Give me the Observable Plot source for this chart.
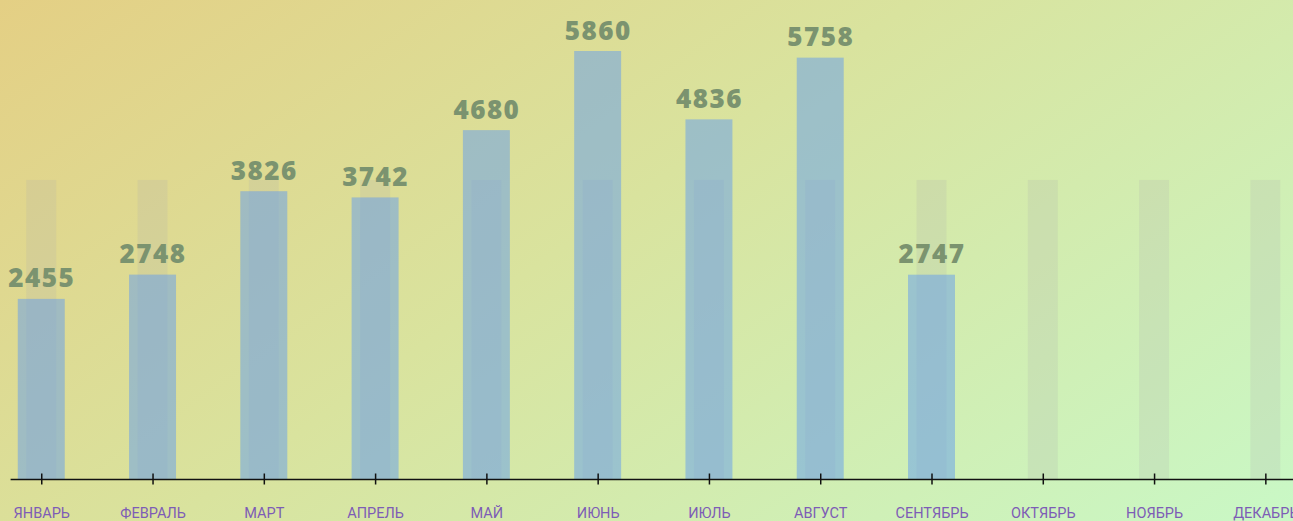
<!DOCTYPE html>
<html><head><meta charset="utf-8">
<script src="https://cdn.jsdelivr.net/npm/d3@7"></script>
<script src="https://cdn.jsdelivr.net/npm/@observablehq/plot@0.6"></script>
<style>
html,body{margin:0;padding:0;overflow:hidden;width:1293px;height:521px;}
body{background:linear-gradient(145deg,#e4cf84 0%,#d9e39e 45%,#c9f8c6 100%);}
#chart svg{display:block;max-width:none !important;}
.vlabels text{letter-spacing:1.5px;}
</style></head><body><div id="chart"></div>
<script>
const months = ["ЯНВАРЬ","ФЕВРАЛЬ","МАРТ","АПРЕЛЬ","МАЙ","ИЮНЬ","ИЮЛЬ","АВГУСТ","СЕНТЯБРЬ","ОКТЯБРЬ","НОЯБРЬ","ДЕКАБРЬ"];
const values = [2455,2748,3826,3742,4680,5860,4836,5758,2747,null,null,null];
const targets = [3980,3980,3980,3980,3980,3980,3980,3980,3980,3980,3980,3980];
const yBase = 641;

const rows = months.map((m,i)=>({month:m, value:values[i], target:targets[i], base:yBase}));
const valued = rows.filter(d=>d.value!=null);

const chart = Plot.plot({
  width:1300, height:521,
  marginLeft:10.6, marginRight:4, marginTop:51, marginBottom:42,
  style:{background:"transparent", overflow:"visible"},
  x:{domain:months, paddingInner:0.578, paddingOuter:0.0645, round:false, label:null, axis:null},
  y:{type:"pow", exponent:0.7, domain:[yBase,5860], axis:null},
  marks:[
    Plot.barY(rows,{x:"month", y1:"base", y2:"target", fill:"#b0b0b0", fillOpacity:0.2, insetLeft:8.5, insetRight:8.5}),
    Plot.barY(valued,{x:"month", y1:"base", y2:"value", fill:"#619bf0", fillOpacity:0.5}),
    Plot.ruleY([yBase],{stroke:"#111", strokeWidth:1.5}),
    Plot.axisX({tickSize:11, dy:-5.5, stroke:"#111", strokeWidth:1.5, tickFormat:()=>"", label:null}),
    Plot.axisX({tickSize:0, tickPadding:28, fill:"#7d5cb6", fontSize:14.5, fontFamily:"Roboto", fontWeight:400, label:null}),
    Plot.text(valued,{x:"month", y:"value", text:d=>String(d.value), dy:-12, lineAnchor:"bottom",
      fill:"#7b936f", fontSize:26, fontWeight:800, fontFamily:"Open Sans", className:"vlabels"})
  ]
});
document.getElementById("chart").appendChild(chart);
</script>
</body></html>
